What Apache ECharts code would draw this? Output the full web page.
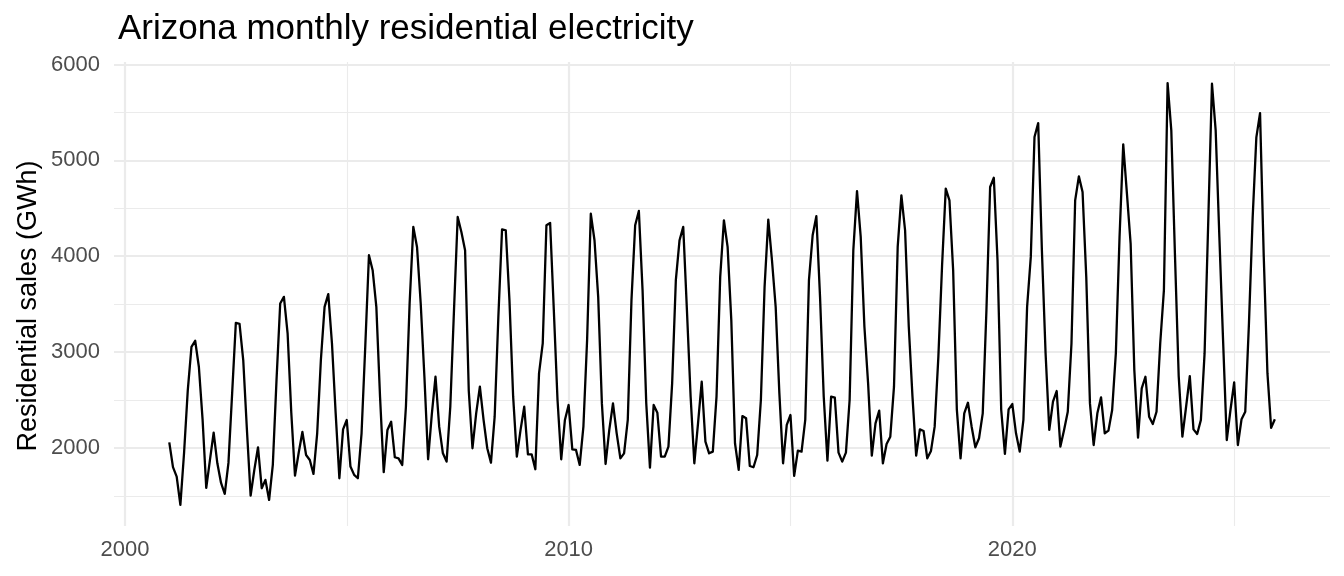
<!DOCTYPE html>
<html>
<head>
<meta charset="utf-8">
<script src="https://cdn.jsdelivr.net/npm/echarts@6/dist/echarts.min.js"></script>
<style>
html,body{margin:0;padding:0;background:#fff;}
#chart{width:1344px;height:576px;}
</style>
</head>
<body>
<div id="chart"></div>
<script>
// Monthly residential sales (GWh), Jan..Dec per year
const y2001 = [2059, 1800, 1701, 1406, 1950, 2600, 3055, 3118, 2847, 2300, 1583, 1875];
const y2002 = [2160, 1840, 1635, 1521, 1844, 2570, 3305, 3295, 2917, 2188, 1503, 1771];
const y2003 = [2007, 1580, 1667, 1458, 1823, 2708, 3507, 3576, 3196, 2365, 1712, 1950];
const y2004 = [2167, 1927, 1875, 1729, 2153, 2917, 3472, 3604, 3090, 2361, 1684, 2194];
const y2005 = [2292, 1806, 1719, 1684, 2153, 3056, 4010, 3854, 3472, 2535, 1747, 2188];
const y2006 = [2274, 1903, 1892, 1823, 2430, 3507, 4306, 4097, 3507, 2743, 1882, 2350];
const y2007 = [2743, 2222, 1944, 1858, 2430, 3437, 4410, 4253, 4062, 2594, 1997, 2361];
const y2008 = [2639, 2292, 1997, 1847, 2326, 3368, 4281, 4271, 3542, 2535, 1910, 2188];
const y2009 = [2430, 1934, 1934, 1778, 2778, 3090, 4323, 4347, 3437, 2500, 1882, 2292];
const y2010 = [2448, 1986, 1979, 1823, 2222, 3125, 4444, 4167, 3576, 2465, 1833, 2188];
const y2011 = [2465, 2153, 1892, 1944, 2292, 3542, 4323, 4472, 3646, 2465, 1795, 2448];
const y2012 = [2368, 1910, 1910, 2014, 2674, 3750, 4167, 4306, 3437, 2535, 1840, 2257];
const y2013 = [2691, 2066, 1944, 1962, 2535, 3785, 4375, 4097, 3333, 2049, 1771, 2333];
const y2014 = [2309, 1812, 1799, 1927, 2500, 3680, 4382, 3958, 3472, 2569, 1840, 2240];
const y2015 = [2344, 1708, 1972, 1962, 2292, 3750, 4219, 4417, 3576, 2535, 1868, 2535];
const y2016 = [2524, 1951, 1858, 1951, 2500, 4062, 4680, 4201, 3264, 2674, 1920, 2257];
const y2017 = [2389, 1840, 2042, 2118, 2639, 4097, 4635, 4271, 3264, 2535, 1920, 2194];
const y2018 = [2177, 1892, 1969, 2222, 2950, 3900, 4705, 4583, 3854, 2400, 1892, 2361];
const y2019 = [2472, 2222, 2007, 2101, 2361, 3437, 4722, 4819, 3958, 2396, 1938, 2403];
const y2020 = [2458, 2153, 1962, 2292, 3472, 3993, 5243, 5389, 4062, 2986, 2188, 2483];
const y2021 = [2594, 2014, 2188, 2378, 3090, 4583, 4833, 4670, 3785, 2465, 2031, 2361];
const y2022 = [2528, 2153, 2181, 2396, 2986, 4201, 5167, 4653, 4132, 2812, 2108, 2622];
const y2023 = [2743, 2326, 2250, 2378, 3090, 3646, 5806, 5312, 4000, 2750, 2118, 2430];
const y2024 = [2750, 2194, 2146, 2292, 2986, 4375, 5799, 5312, 4201, 3125, 2083, 2396];
const y2025 = [2684, 2031, 2300, 2378, 3300, 4400, 5240, 5493, 4000, 2780, 2210, 2300];

const years = [2001,2002,2003,2004,2005,2006,2007,2008,2009,2010,2011,2012,2013,
               2014,2015,2016,2017,2018,2019,2020,2021,2022,2023,2024,2025];
const yearValues = [y2001,y2002,y2003,y2004,y2005,y2006,y2007,y2008,y2009,y2010,
                    y2011,y2012,y2013,y2014,y2015,y2016,y2017,y2018,y2019,y2020,
                    y2021,y2022,y2023,y2024,y2025];

const xTickLabels = [2000, 2010, 2020];
const xMinorBreaks = [2005, 2015, 2025];
const yTickLabels = [2000, 3000, 4000, 5000, 6000];
const yMinorBreaks = [1500, 2500, 3500, 4500, 5500];

const titleText = 'Arizona monthly residential electricity';
const yTitle = 'Residential sales (GWh)';

const seriesData = [];
years.forEach((yr, i) => {
  yearValues[i].forEach((v, m) => seriesData.push([yr + m / 12, v]));
});

const gridColor = '#ebebeb';
const gridLines = [];
xTickLabels.forEach(v => gridLines.push({xAxis: v, lineStyle: {color: gridColor, width: 2.2, type: 'solid'}}));
xMinorBreaks.forEach(v => gridLines.push({xAxis: v, lineStyle: {color: gridColor, width: 1.1, type: 'solid'}}));
yTickLabels.forEach(v => gridLines.push({yAxis: v, lineStyle: {color: gridColor, width: 2.2, type: 'solid'}}));
yMinorBreaks.forEach(v => gridLines.push({yAxis: v, lineStyle: {color: gridColor, width: 1.1, type: 'solid'}}));

const chart = echarts.init(document.getElementById('chart'), null, {renderer: 'canvas'});
chart.setOption({
  animation: false,
  backgroundColor: '#ffffff',
  textStyle: {fontFamily: 'Liberation Sans, Arial, sans-serif'},
  title: {
    text: titleText,
    left: 113,
    top: 7,
    textStyle: {fontSize: 35, fontWeight: 'normal', color: '#000000', fontFamily: 'Liberation Sans, Arial, sans-serif'}
  },
  graphic: [{
    type: 'text',
    x: 29,
    y: 306,
    rotation: Math.PI / 2,
    style: {
      text: yTitle,
      fontSize: 27,
      fill: '#000000',
      fontFamily: 'Liberation Sans, Arial, sans-serif',
      textAlign: 'center',
      textVerticalAlign: 'middle'
    }
  }],
  grid: {left: 114, right: 14, top: 62, bottom: 50, containLabel: false},
  xAxis: {
    type: 'value',
    min: 1999.754,
    max: 2027.16,
    axisLine: {show: false},
    axisTick: {show: false},
    splitLine: {show: false},
    axisLabel: {
      customValues: xTickLabels,
      formatter: v => String(Math.round(v)),
      fontSize: 22,
      color: '#4d4d4d',
      margin: 13,
      fontFamily: 'Liberation Sans, Arial, sans-serif'
    }
  },
  yAxis: {
    type: 'value',
    min: 1186,
    max: 6026,
    axisLine: {show: false},
    axisTick: {show: false},
    splitLine: {show: false},
    axisLabel: {
      customValues: yTickLabels,
      formatter: v => String(Math.round(v)),
      fontSize: 22,
      color: '#4d4d4d',
      margin: 14,
      fontFamily: 'Liberation Sans, Arial, sans-serif'
    }
  },
  series: [
    {
      name: 'grid',
      type: 'line',
      z: 1,
      silent: true,
      data: [[2000, 2000]],
      showSymbol: false,
      symbol: 'none',
      lineStyle: {opacity: 0},
      markLine: {
        silent: true,
        symbol: ['none', 'none'],
        label: {show: false},
        animation: false,
        data: gridLines
      }
    },
    {
      name: 'sales',
      type: 'line',
      z: 5,
      data: seriesData,
      showSymbol: false,
      symbol: 'none',
      lineStyle: {color: '#000000', width: 2.3, join: 'round'}
    }
  ]
});
</script>
</body>
</html>
